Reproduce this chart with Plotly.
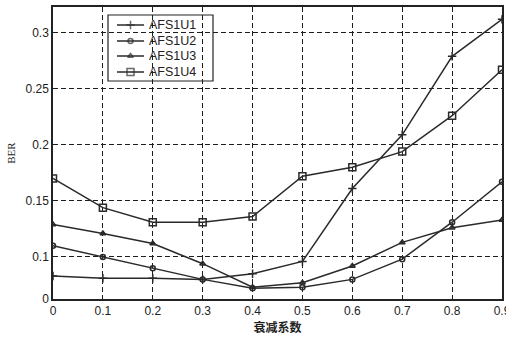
import plotly.graph_objects as go

# attenuation coefficient
x_vals = [0, 0.1, 0.2, 0.3, 0.4, 0.5, 0.6, 0.7, 0.8, 0.9]

# BER per scheme
ber_u1 = [0.083, 0.081, 0.081, 0.080, 0.085, 0.096, 0.161, 0.209, 0.279, 0.312]
ber_u2 = [0.110, 0.100, 0.090, 0.080, 0.072, 0.073, 0.080, 0.098, 0.131, 0.167]
ber_u3 = [0.129, 0.121, 0.112, 0.094, 0.073, 0.077, 0.092, 0.113, 0.126, 0.133]
ber_u4 = [0.170, 0.144, 0.131, 0.131, 0.136, 0.172, 0.180, 0.194, 0.226, 0.267]

series_names = ["AFS1U1", "AFS1U2", "AFS1U3", "AFS1U4"]
series_data = [ber_u1, ber_u2, ber_u3, ber_u4]
symbols = ["cross-thin-open", "circle-open", "triangle-up-open", "square-open"]
sizes = [6, 5, 5, 7]

# y axis: bottom of the axis carries the "0" label
y_bottom = 0.0625
y_top = 0.323
y_tickvals = [y_bottom, 0.1, 0.15, 0.2, 0.25, 0.3]
y_ticktext = ["0", "0.1", "0.15", "0.2", "0.25", "0.3"]
x_tickvals = x_vals
x_ticktext = ["0", "0.1", "0.2", "0.3", "0.4", "0.5", "0.6", "0.7", "0.8", "0.9"]

ink = "#222222"
line_color = "#2a2a2a"

fig = go.Figure()
for name, ys, sym, sz in zip(series_names, series_data, symbols, sizes):
    fig.add_trace(go.Scatter(
        x=x_vals, y=ys, name=name, mode="lines+markers", showlegend=False,
        line=dict(color=line_color, width=1.5),
        marker=dict(symbol=sym, size=sz, color=line_color,
                    line=dict(color=line_color, width=1.5)),
    ))

# boxed legend on a pixel-like overlay axis (0..449 across, 0..292 down)
legend_box = dict(x0=55, x1=160, y0=8, y1=74)
legend_rows = [18, 34, 49, 65]
sample_x = [64, 77.5, 91]
text_x = 94

for name, row, sym, sz in zip(series_names, legend_rows, symbols, sizes):
    fig.add_trace(go.Scatter(
        x=sample_x, y=[row] * 3, xaxis="x2", yaxis="y2",
        mode="lines+markers", showlegend=False, hoverinfo="skip",
        line=dict(color=line_color, width=1.5),
        marker=dict(symbol=sym, size=[0, sz, 0], color=line_color,
                    line=dict(color=line_color, width=1.5)),
    ))
    fig.add_annotation(
        x=text_x, y=row, xref="x2", yref="y2", text=name, showarrow=False,
        xanchor="left", yanchor="middle",
        font=dict(family="Arial, Liberation Sans, sans-serif", size=12.5, color=ink),
    )

fig.add_shape(type="rect", xref="x2", yref="y2", layer="below",
              x0=legend_box["x0"], x1=legend_box["x1"],
              y0=legend_box["y0"], y1=legend_box["y1"],
              fillcolor="white", line=dict(color=ink, width=1.2))

axis_font = dict(family="Arial, Liberation Sans, sans-serif", size=12, color=ink)
grid_kw = dict(showgrid=True, gridcolor="#1e1e1e", gridwidth=1.3, griddash="5px,3px")

fig.update_layout(
    width=506, height=339,
    margin=dict(l=53, r=4, t=7, b=40),
    paper_bgcolor="white", plot_bgcolor="white",
    showlegend=False,
    xaxis=dict(
        range=[0, 0.9], tickvals=x_tickvals, ticktext=x_ticktext,
        zeroline=False, ticklabeloverflow="allow", automargin=False,
        showline=True, linecolor=ink, linewidth=1.5, mirror=True,
        ticks="", tickfont=axis_font,
        title=dict(text="<b>衰减系数</b>", standoff=4,
                   font=dict(family="Noto Sans CJK SC", size=12, color=ink)),
        **grid_kw,
    ),
    yaxis=dict(
        range=[y_bottom, y_top], tickvals=y_tickvals, ticktext=y_ticktext,
        zeroline=False, automargin=False,
        showline=True, linecolor=ink, linewidth=1.5, mirror=True,
        ticks="", tickfont=axis_font,
        title=dict(text="BER", standoff=8,
                   font=dict(family="Liberation Serif, serif", size=11, color=ink)),
        **grid_kw,
    ),
    xaxis2=dict(overlaying="x", range=[0, 449], visible=False, fixedrange=True),
    yaxis2=dict(overlaying="y", range=[292, 0], visible=False, fixedrange=True),
)

fig.write_html("out.html")
